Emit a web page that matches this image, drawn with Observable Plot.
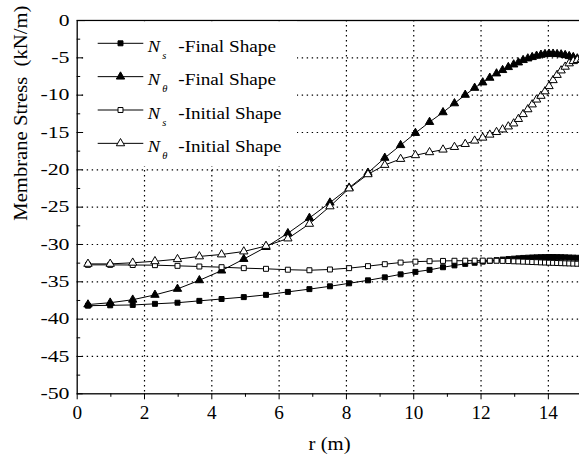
<!DOCTYPE html>
<html><head><meta charset="utf-8">
<script src="https://cdn.jsdelivr.net/npm/d3@7"></script>
<script src="https://cdn.jsdelivr.net/npm/@observablehq/plot@0.6"></script>
<style>html,body{margin:0;padding:0;background:#fff;overflow:hidden;font-family:"Liberation Serif","DejaVu Serif",serif}</style>
</head><body><div id="chart"></div>
<script>
// radius positions of the mesh nodes (m)
const r = [0.32, 0.98, 1.65, 2.31, 2.98, 3.63, 4.29, 4.95, 5.61, 6.26,
  6.90, 7.51, 8.08, 8.64, 9.14, 9.61, 10.05, 10.47, 10.87, 11.21,
  11.53, 11.81, 12.05, 12.26, 12.46, 12.64, 12.81, 12.97, 13.11, 13.25,
  13.39, 13.52, 13.65, 13.78, 13.90, 14.02, 14.14, 14.26, 14.38, 14.50,
  14.62, 14.74, 14.86, 14.98];
// Ns - Final Shape (kN/m)
const nsFinal = [-38.2, -38.15, -38.1, -37.95, -37.8, -37.55, -37.3, -37.05, -36.75, -36.35,
  -35.98, -35.6, -35.2, -34.8, -34.4, -34.0, -33.67, -33.4, -33.05, -32.8,
  -32.6, -32.45, -32.3, -32.2, -32.1, -32.02, -31.95, -31.9, -31.85, -31.8,
  -31.77, -31.74, -31.72, -31.7, -31.69, -31.68, -31.68, -31.69, -31.7, -31.72,
  -31.74, -31.76, -31.78, -31.8];
// Ntheta - Final Shape
const nthFinal = [-38.05, -37.8, -37.4, -36.75, -35.95, -34.8, -33.5, -31.95, -30.35, -28.5,
  -26.45, -24.4, -22.4, -20.4, -18.4, -16.7, -15.07, -13.6, -12.3, -11.1,
  -9.96, -9.03, -8.3, -7.68, -7.1, -6.65, -6.25, -5.9, -5.63, -5.31,
  -5.09, -4.91, -4.73, -4.6, -4.51, -4.46, -4.46, -4.51, -4.55, -4.64,
  -4.78, -4.91, -5.09, -5.25];
// Ns - Initial Shape
const nsInit = [-32.73, -32.73, -32.75, -32.77, -32.86, -32.95, -33.04, -33.17, -33.26, -33.38,
  -33.45, -33.35, -33.17, -32.9, -32.64, -32.42, -32.3, -32.24, -32.2, -32.18,
  -32.17, -32.16, -32.16, -32.17, -32.18, -32.2, -32.22, -32.25, -32.27, -32.3,
  -32.32, -32.35, -32.37, -32.4, -32.42, -32.44, -32.46, -32.48, -32.5, -32.52,
  -32.54, -32.56, -32.58, -32.6];
// Ntheta - Initial Shape
const nthInit = [-32.6, -32.6, -32.45, -32.25, -31.97, -31.6, -31.34, -30.94, -30.2, -29.2,
  -27.24, -24.9, -22.5, -20.6, -19.35, -18.55, -18.05, -17.65, -17.3, -16.95,
  -16.55, -16.1, -15.7, -15.3, -14.95, -14.6, -14.2, -13.8, -13.2, -12.55,
  -11.9, -11.25, -10.6, -10.1, -9.5, -8.8, -8.0, -7.3, -6.7, -6.2,
  -5.75, -5.45, -5.3, -5.2];

const xTicks = [0, 2, 4, 6, 8, 10, 12, 14];
const xMinor = [1, 3, 5, 7, 9, 11, 13, 15];
const yTicks = [0, -5, -10, -15, -20, -25, -30, -35, -40, -45, -50];
const yMinor = [-2.5, -7.5, -12.5, -17.5, -22.5, -27.5, -32.5, -37.5, -42.5, -47.5];
const xGrid = [2, 4, 6, 8, 10, 12, 14];
const yGrid = [-5, -10, -15, -20, -25, -30, -35, -40, -45];
const xTitle = "r (m)";
const yTitle = "Membrane Stress\u00a0 (kN/m)";
const legendMain = ["N", "N", "N", "N"];
const legendSub = ["s", "\u03b8", "s", "\u03b8"];
const legendText = ["-Final Shape", "-Final Shape", "-Initial Shape", "-Initial Shape"];

const toRows = vals => r.map((x, i) => ({r: x, v: vals[i]}));
const dFS = toRows(nsFinal), dFT = toRows(nthFinal), dIS = toRows(nsInit), dIT = toRows(nthInit);

const FONT = "Liberation Serif, DejaVu Serif, serif";
const dash = "1.4,3.6";
const sqR = 2.8, trR = 3.1;
const lineOpt = {x: "r", y: "v", stroke: "#000", strokeWidth: 1};
const empty = () => "";

const plot = Plot.plot({
  width: 579, height: 461,
  marginLeft: 76.7, marginRight: -2.5, marginTop: 20, marginBottom: 67.7,
  x: {domain: [0, 15], label: null},
  y: {domain: [-50, 0], label: null},
  style: {fontFamily: FONT, background: "#fff", color: "#000"},
  marks: [
    Plot.gridX(xGrid, {stroke: "#000", strokeOpacity: 1, strokeWidth: 1.2, strokeDasharray: dash}),
    Plot.gridY(yGrid, {stroke: "#000", strokeOpacity: 1, strokeWidth: 1.2, strokeDasharray: dash}),
    Plot.line(dFS, lineOpt),
    Plot.line(dFT, lineOpt),
    Plot.line(dIS, lineOpt),
    Plot.line(dIT, lineOpt),
    Plot.dot(dFS, {x: "r", y: "v", symbol: "square", r: sqR, fill: "#000", stroke: "#000", strokeWidth: 1}),
    Plot.dot(dFT, {x: "r", y: "v", symbol: "triangle", r: trR, fill: "#000", stroke: "#000", strokeWidth: 1}),
    Plot.dot(dIS, {x: "r", y: "v", symbol: "square", r: sqR, fill: "#fff", stroke: "#000", strokeWidth: 1}),
    Plot.dot(dIT, {x: "r", y: "v", symbol: "triangle", r: trR, fill: "#fff", stroke: "#000", strokeWidth: 1}),
    Plot.axisX(xTicks, {anchor: "bottom", tickSize: 6, tickPadding: 6, fontSize: 19, tickFormat: d => String(d), label: null}),
    Plot.axisX(xMinor, {anchor: "bottom", tickSize: 3.5, tickFormat: empty, label: null}),
    Plot.axisY(yTicks, {anchor: "left", tickSize: 0, tickPadding: 7.7, fontSize: 16.3, tickFormat: d => String(d), label: null}),
    Plot.axisY(yTicks, {anchor: "left", tickSize: -6, tickFormat: empty, label: null}),
    Plot.axisY(yMinor, {anchor: "left", tickSize: -3.5, tickFormat: empty, label: null}),
    Plot.frame({stroke: "#000", strokeWidth: 1.3}),
    Plot.text([yTitle], {frameAnchor: "left", dx: -56, dy: 13.5, rotate: -90, fontSize: 18.5}),
    Plot.text([xTitle], {frameAnchor: "bottom", dy: 56.5, fontSize: 19.5})
  ]
});
document.getElementById("chart").append(plot);

const svg = d3.select(plot);
svg.selectAll("text").style("font-family", FONT);
const fit = (sel, fn) => sel.each(function() {
  const L = fn(this.textContent);
  if (L > 0) { this.setAttribute("textLength", L); this.setAttribute("lengthAdjust", "spacingAndGlyphs"); }
});
const count = (t, re) => (t.match(re) || []).length;
fit(svg.selectAll('[aria-label="y-axis tick label"] text'), t => count(t, /-/g) * 7.5 + count(t, /\d/g) * 10.8);
fit(svg.selectAll('[aria-label="x-axis tick label"] text'), t => count(t, /\d/g) * 9.6);
fit(svg.selectAll("text").filter(function() { return this.textContent === yTitle; }), () => 215);
fit(svg.selectAll("text").filter(function() { return this.textContent === xTitle; }), () => 42);

// legend inside the plot area
const lg = svg.append("g").style("font-family", FONT).attr("fill", "#000").attr("text-anchor", "start");
lg.append("rect").attr("x", 85).attr("y", 21.5).attr("width", 212).attr("height", 144.5).attr("fill", "#fff");
const symbols = [
  {type: d3.symbolSquare, rr: sqR, fill: "#000"},
  {type: d3.symbolTriangle, rr: trR, fill: "#000"},
  {type: d3.symbolSquare, rr: sqR, fill: "#fff"},
  {type: d3.symbolTriangle, rr: trR, fill: "#fff"}
];
const textLens = [97.7, 97.7, 103.3, 103.3];
symbols.forEach((s, i) => {
  const y = 43.3 + i * 33.35;
  lg.append("line").attr("x1", 97.7).attr("x2", 143.3).attr("y1", y).attr("y2", y).attr("stroke", "#000").attr("stroke-width", 1);
  lg.append("path").attr("d", d3.symbol(s.type, Math.PI * s.rr * s.rr)())
    .attr("transform", `translate(120.5,${y})`).attr("fill", s.fill).attr("stroke", "#000").attr("stroke-width", 1);
  lg.append("text").attr("x", 147.7).attr("y", y + 8.7).attr("font-size", 16.5).attr("font-style", "italic").attr("text-anchor", "start")
    .attr("textLength", 12.3).attr("lengthAdjust", "spacingAndGlyphs").text(legendMain[i]);
  lg.append("text").attr("x", 162.3).attr("y", y + 15.5).attr("font-size", 10.5).attr("font-style", "italic").attr("text-anchor", "start").text(legendSub[i]);
  lg.append("text").attr("x", 178.3).attr("y", y + 8.7).attr("font-size", 16.5).attr("text-anchor", "start")
    .attr("textLength", textLens[i]).attr("lengthAdjust", "spacingAndGlyphs").text(legendText[i]);
});
</script>
</body></html>
